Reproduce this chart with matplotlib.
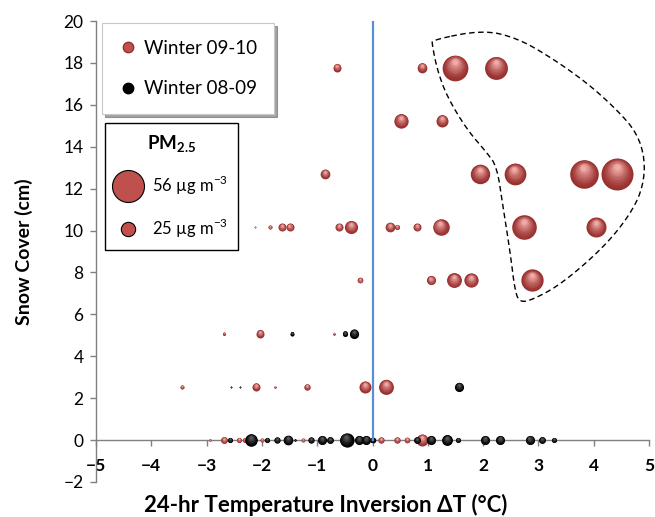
import numpy as np
import matplotlib.pyplot as plt
import matplotlib as mpl
from matplotlib.lines import Line2D
from matplotlib.transforms import ScaledTranslation

# fonts
plt.rcParams['font.family'] = ['Lato', 'DejaVu Sans']
plt.rcParams['mathtext.fontset'] = 'custom'
plt.rcParams['mathtext.rm'] = 'Lato'
plt.rcParams['mathtext.bf'] = 'Lato:bold'

# Winter 09-10 (red): inversion dT (C), snow cover (cm), PM2.5 (ug m-3)
w10_dt = [-0.65, 0.90, 1.50, 2.24,
          0.52, 1.25,
          -0.85, 1.95, 2.57, 3.82, 4.43,
          -2.13, -1.86, -1.64, -1.50, -0.60, -0.38, 0.31, 0.45, 0.81, 1.23, 2.74, 4.05,
          -0.23, 1.05, 1.48, 1.79, 2.89,
          -2.68, -2.03, -0.69,
          -3.44, -2.10, -1.77, -1.18, -0.13, 0.24,
          -2.93, -2.69, -2.42, -2.31, -1.99, -1.25, 0.16, 0.45, 0.63, 0.89]
w10_snow = [17.78] * 4 + [15.24] * 2 + [12.7] * 5 + [10.16] * 12 + [7.62] * 5 \
    + [5.08] * 3 + [2.54] * 6 + [0.0] * 10
w10_pm = [14, 17, 45, 40,
          25, 21,
          17, 34, 38, 50, 56,
          3, 7, 14, 14, 14, 23, 17, 9, 14, 29, 43, 35,
          10, 16, 26, 25, 39,
          5, 14, 4,
          7, 14, 4, 11, 21, 26,
          4, 12, 9, 9, 7, 7, 11, 11, 10, 21]

# Winter 08-09 (black)
w09_dt = [-1.46, -0.49, -0.34,
          -2.55, -2.39, 1.56,
          -2.57, -2.19, -1.90, -1.73, -1.53, -1.40, -1.12, -0.92, -0.76, -0.47, -0.25,
          -0.11, 0.00, 0.81, 1.06, 1.34, 1.54, 2.04, 2.31, 2.84, 3.07, 3.29]
w09_snow = [5.08] * 3 + [2.54] * 3 + [0.0] * 22
w09_pm = [7, 9, 16,
          3, 3, 16,
          9, 22, 9, 11, 17, 4, 11, 16, 12, 25, 16,
          16, 10, 12, 16, 19, 9, 16, 16, 16, 12, 9]

legend_pm = [56, 25]

# dashed outline around the high-PM cluster (dT, snow)
outline_dt = [1.08, 2.00, 2.61, 3.21, 3.88, 4.42, 4.78, 4.93, 4.89, 4.71, 4.35, 3.88,
              3.34, 2.90, 2.67, 2.58, 2.49, 2.36, 2.25, 2.07, 1.71, 1.35, 1.17, 1.08]
outline_snow = [19.1, 19.57, 19.19, 18.29, 17.05, 15.76, 14.67, 13.38, 12.1, 11.0, 9.71, 8.48,
                7.33, 6.71, 6.57, 7.05, 8.95, 11.14, 13.05, 13.71, 14.81, 16.38, 17.67, 18.86]

PX_PER_UG = 16 / 56  # bubble radius in pixels per ug m-3

fig = plt.figure(figsize=(6.55, 5.17), dpi=100)
ax = fig.add_axes([96 / 655, 1 - 482 / 517, 553 / 655, 461 / 517])


def sphere(x, y, pm, dark, light, n=9):
    # stacked discs fading to a highlight near the top -> 3D bubble look
    r = pm * PX_PER_UG * 0.72  # radius in points
    c0 = np.array(mpl.colors.to_rgb(dark))
    c1 = np.array(mpl.colors.to_rgb(light))
    for k in range(n):
        t = k / (n - 1)
        frac = 1.0 - 0.8 * t
        up = 0.45 * t
        col = c0 + (c1 - c0) * t ** 1.3
        tr = ax.transData + ScaledTranslation(-0.04 * up * r / 72, up * r / 72,
                                              fig.dpi_scale_trans)
        ax.scatter([x], [y], s=(2 * r * frac) ** 2, color=col, linewidths=0,
                   transform=tr, zorder=3)


for x, y, p in zip(w10_dt, w10_snow, w10_pm):
    sphere(x, y, p, '#98302e', '#f0aaa7')
for x, y, p in zip(w09_dt, w09_snow, w09_pm):
    sphere(x, y, p, '#000000', '#5a5a5a')

# blue zero line
ax.plot([0, 0], [0, 20], color='#5a8fd6', lw=1.6, zorder=4)


# dashed outline (corner-cut smoothing)
def chaikin(px, py, n=2):
    pts = np.column_stack([px, py])
    for _ in range(n):
        nxt = np.roll(pts, -1, axis=0)
        q = 0.75 * pts + 0.25 * nxt
        r = 0.25 * pts + 0.75 * nxt
        pts = np.empty((2 * len(q), 2))
        pts[0::2] = q
        pts[1::2] = r
    pts = np.vstack([pts, pts[:1]])
    return pts[:, 0], pts[:, 1]


ox, oy = chaikin(outline_dt, outline_snow)
ax.plot(ox, oy, color='black', lw=1.0, ls=(0, (4, 2.5)), zorder=2)

ax.set_xlim(-5, 5)
ax.set_ylim(-2, 20)
ax.set_xticks(range(-5, 6))
ax.set_yticks(range(-2, 21, 2))
ax.spines['top'].set_visible(False)
ax.spines['right'].set_visible(False)
ax.spines['bottom'].set_position(('data', 0))
for s in ('left', 'bottom'):
    ax.spines[s].set_color('#808080')
    ax.spines[s].set_linewidth(1.0)
ax.tick_params(axis='both', direction='out', length=4, color='#808080', width=1.0)
ax.tick_params(axis='x', labelsize=12.5, pad=9)
ax.tick_params(axis='y', labelsize=12.5, pad=5)
for t in ax.get_xticklabels():
    t.set_fontweight('bold')

ax.set_ylabel('Snow Cover (cm)', fontsize=14, fontweight='bold', labelpad=22)
fig.text(326 / 655, 1 - 505 / 517, '24-hr Temperature Inversion \u0394T (\u00b0C)',
         fontsize=16, fontweight='bold', ha='center', va='center')

# legend: seasons
h1 = [Line2D([], [], ls='none', marker='o', ms=7.5, mfc='#c0504d', mec='#8c3330'),
      Line2D([], [], ls='none', marker='o', ms=7.5, mfc='#000000', mec='#000000')]
leg1 = ax.legend(h1, ['Winter 09-10', 'Winter 08-09'], loc='upper left',
                 bbox_to_anchor=(102 / 655, 1 - 23 / 517), bbox_transform=fig.transFigure,
                 fontsize=13.5, frameon=True, fancybox=False, shadow=True,
                 edgecolor='#c8c8c8', framealpha=1, borderpad=0.9, labelspacing=1.25,
                 handlelength=1.0, handletextpad=0.35, borderaxespad=0)
leg1.get_frame().set_linewidth(0.8)
ax.add_artist(leg1)

# legend: PM2.5 bubble sizes
h2 = [Line2D([], [], ls='none', marker='o', ms=2 * p * PX_PER_UG * 0.72,
             mfc='#c0504d', mec='black', mew=0.8) for p in legend_pm]
leg2 = ax.legend(h2, [f'{p} \u00b5g m$^{{-3}}$' for p in legend_pm], loc='upper left',
                 bbox_to_anchor=(105 / 655, 1 - 123 / 517), bbox_transform=fig.transFigure,
                 title=r'$\mathbf{PM_{2.5}}$', title_fontsize=13.5, fontsize=12,
                 frameon=True, fancybox=False, edgecolor='black', framealpha=1,
                 borderpad=0.6, labelspacing=1.2, handlelength=1.6, handletextpad=0.6,
                 borderaxespad=0)
leg2.get_frame().set_linewidth(1.0)

fig.savefig('out.png', dpi=100)
